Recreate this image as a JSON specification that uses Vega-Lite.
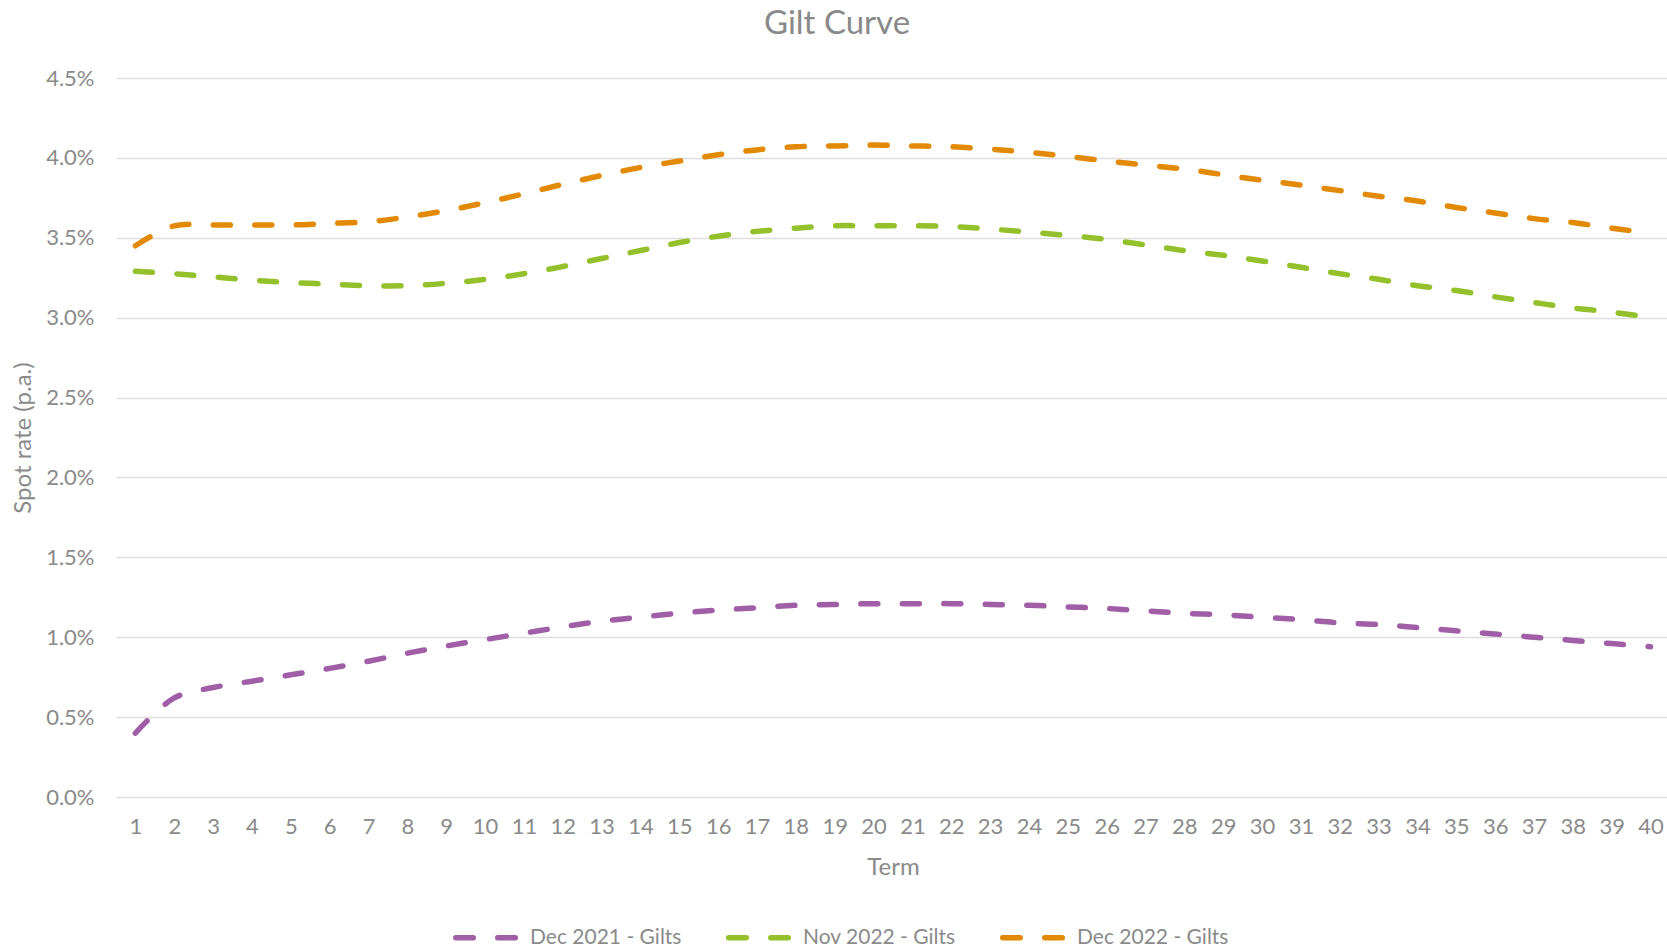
{
  "$schema": "https://vega.github.io/schema/vega-lite/v6.json",
  "autosize": {"type": "none"},
  "padding": {"left": 116, "top": 78, "right": 0, "bottom": 151},
  "width": 1554,
  "height": 719,
  "background": "white",
  "config": {
    "view": {"stroke": null},
    "font": "Lato",
    "axis": {"labelFont": "Lato", "titleFont": "Lato", "labelColor": "#8a8a8a", "titleColor": "#8a8a8a", "labelFontSize": 22, "titleFontSize": 24, "titleFontWeight": "normal"},
    "legend": {"labelFont": "Lato", "labelColor": "#8a8a8a", "labelFontSize": 21}
  },
  "title": {"text": "Gilt Curve", "font": "Lato", "fontSize": 33, "fontWeight": "normal", "color": "#8a8a8a", "anchor": "middle", "dx": -56, "offset": 26},
  "data": {"values": [
    {"term":1,"series":"Dec 2021 - Gilts","rate":0.0040},
    {"term":2,"series":"Dec 2021 - Gilts","rate":0.0062},
    {"term":3,"series":"Dec 2021 - Gilts","rate":0.00685},
    {"term":4,"series":"Dec 2021 - Gilts","rate":0.00725},
    {"term":5,"series":"Dec 2021 - Gilts","rate":0.00765},
    {"term":6,"series":"Dec 2021 - Gilts","rate":0.00805},
    {"term":7,"series":"Dec 2021 - Gilts","rate":0.0085},
    {"term":8,"series":"Dec 2021 - Gilts","rate":0.0090},
    {"term":9,"series":"Dec 2021 - Gilts","rate":0.00945},
    {"term":10,"series":"Dec 2021 - Gilts","rate":0.00985},
    {"term":11,"series":"Dec 2021 - Gilts","rate":0.01025},
    {"term":12,"series":"Dec 2021 - Gilts","rate":0.01065},
    {"term":13,"series":"Dec 2021 - Gilts","rate":0.0110},
    {"term":14,"series":"Dec 2021 - Gilts","rate":0.01125},
    {"term":15,"series":"Dec 2021 - Gilts","rate":0.0115},
    {"term":16,"series":"Dec 2021 - Gilts","rate":0.0117},
    {"term":17,"series":"Dec 2021 - Gilts","rate":0.01185},
    {"term":18,"series":"Dec 2021 - Gilts","rate":0.0120},
    {"term":19,"series":"Dec 2021 - Gilts","rate":0.01205},
    {"term":20,"series":"Dec 2021 - Gilts","rate":0.0121},
    {"term":21,"series":"Dec 2021 - Gilts","rate":0.0121},
    {"term":22,"series":"Dec 2021 - Gilts","rate":0.0121},
    {"term":23,"series":"Dec 2021 - Gilts","rate":0.01205},
    {"term":24,"series":"Dec 2021 - Gilts","rate":0.0120},
    {"term":25,"series":"Dec 2021 - Gilts","rate":0.0119},
    {"term":26,"series":"Dec 2021 - Gilts","rate":0.0118},
    {"term":27,"series":"Dec 2021 - Gilts","rate":0.01165},
    {"term":28,"series":"Dec 2021 - Gilts","rate":0.0115},
    {"term":29,"series":"Dec 2021 - Gilts","rate":0.0114},
    {"term":30,"series":"Dec 2021 - Gilts","rate":0.01125},
    {"term":31,"series":"Dec 2021 - Gilts","rate":0.0111},
    {"term":32,"series":"Dec 2021 - Gilts","rate":0.0109},
    {"term":33,"series":"Dec 2021 - Gilts","rate":0.0108},
    {"term":34,"series":"Dec 2021 - Gilts","rate":0.0106},
    {"term":35,"series":"Dec 2021 - Gilts","rate":0.0104},
    {"term":36,"series":"Dec 2021 - Gilts","rate":0.0102},
    {"term":37,"series":"Dec 2021 - Gilts","rate":0.0100},
    {"term":38,"series":"Dec 2021 - Gilts","rate":0.0098},
    {"term":39,"series":"Dec 2021 - Gilts","rate":0.0096},
    {"term":40,"series":"Dec 2021 - Gilts","rate":0.0094},
    {"term":1,"series":"Nov 2022 - Gilts","rate":0.0329},
    {"term":2,"series":"Nov 2022 - Gilts","rate":0.03275},
    {"term":3,"series":"Nov 2022 - Gilts","rate":0.03255},
    {"term":4,"series":"Nov 2022 - Gilts","rate":0.03235},
    {"term":5,"series":"Nov 2022 - Gilts","rate":0.0322},
    {"term":6,"series":"Nov 2022 - Gilts","rate":0.0321},
    {"term":7,"series":"Nov 2022 - Gilts","rate":0.0320},
    {"term":8,"series":"Nov 2022 - Gilts","rate":0.0320},
    {"term":9,"series":"Nov 2022 - Gilts","rate":0.03215},
    {"term":10,"series":"Nov 2022 - Gilts","rate":0.0324},
    {"term":11,"series":"Nov 2022 - Gilts","rate":0.03275},
    {"term":12,"series":"Nov 2022 - Gilts","rate":0.0332},
    {"term":13,"series":"Nov 2022 - Gilts","rate":0.0337},
    {"term":14,"series":"Nov 2022 - Gilts","rate":0.0342},
    {"term":15,"series":"Nov 2022 - Gilts","rate":0.0347},
    {"term":16,"series":"Nov 2022 - Gilts","rate":0.0351},
    {"term":17,"series":"Nov 2022 - Gilts","rate":0.0354},
    {"term":18,"series":"Nov 2022 - Gilts","rate":0.0356},
    {"term":19,"series":"Nov 2022 - Gilts","rate":0.03575},
    {"term":20,"series":"Nov 2022 - Gilts","rate":0.03575},
    {"term":21,"series":"Nov 2022 - Gilts","rate":0.03575},
    {"term":22,"series":"Nov 2022 - Gilts","rate":0.0357},
    {"term":23,"series":"Nov 2022 - Gilts","rate":0.03555},
    {"term":24,"series":"Nov 2022 - Gilts","rate":0.03535},
    {"term":25,"series":"Nov 2022 - Gilts","rate":0.03515},
    {"term":26,"series":"Nov 2022 - Gilts","rate":0.0349},
    {"term":27,"series":"Nov 2022 - Gilts","rate":0.03455},
    {"term":28,"series":"Nov 2022 - Gilts","rate":0.0342},
    {"term":29,"series":"Nov 2022 - Gilts","rate":0.0339},
    {"term":30,"series":"Nov 2022 - Gilts","rate":0.03355},
    {"term":31,"series":"Nov 2022 - Gilts","rate":0.03315},
    {"term":32,"series":"Nov 2022 - Gilts","rate":0.03275},
    {"term":33,"series":"Nov 2022 - Gilts","rate":0.0324},
    {"term":34,"series":"Nov 2022 - Gilts","rate":0.0320},
    {"term":35,"series":"Nov 2022 - Gilts","rate":0.0317},
    {"term":36,"series":"Nov 2022 - Gilts","rate":0.0313},
    {"term":37,"series":"Nov 2022 - Gilts","rate":0.03095},
    {"term":38,"series":"Nov 2022 - Gilts","rate":0.0306},
    {"term":39,"series":"Nov 2022 - Gilts","rate":0.03035},
    {"term":40,"series":"Nov 2022 - Gilts","rate":0.0300},
    {"term":1,"series":"Dec 2022 - Gilts","rate":0.0345},
    {"term":2,"series":"Dec 2022 - Gilts","rate":0.03575},
    {"term":3,"series":"Dec 2022 - Gilts","rate":0.0358},
    {"term":4,"series":"Dec 2022 - Gilts","rate":0.0358},
    {"term":5,"series":"Dec 2022 - Gilts","rate":0.0358},
    {"term":6,"series":"Dec 2022 - Gilts","rate":0.0359},
    {"term":7,"series":"Dec 2022 - Gilts","rate":0.0360},
    {"term":8,"series":"Dec 2022 - Gilts","rate":0.0363},
    {"term":9,"series":"Dec 2022 - Gilts","rate":0.0367},
    {"term":10,"series":"Dec 2022 - Gilts","rate":0.0372},
    {"term":11,"series":"Dec 2022 - Gilts","rate":0.03775},
    {"term":12,"series":"Dec 2022 - Gilts","rate":0.03835},
    {"term":13,"series":"Dec 2022 - Gilts","rate":0.0389},
    {"term":14,"series":"Dec 2022 - Gilts","rate":0.0394},
    {"term":15,"series":"Dec 2022 - Gilts","rate":0.0398},
    {"term":16,"series":"Dec 2022 - Gilts","rate":0.0402},
    {"term":17,"series":"Dec 2022 - Gilts","rate":0.0405},
    {"term":18,"series":"Dec 2022 - Gilts","rate":0.0407},
    {"term":19,"series":"Dec 2022 - Gilts","rate":0.04075},
    {"term":20,"series":"Dec 2022 - Gilts","rate":0.0408},
    {"term":21,"series":"Dec 2022 - Gilts","rate":0.04075},
    {"term":22,"series":"Dec 2022 - Gilts","rate":0.0407},
    {"term":23,"series":"Dec 2022 - Gilts","rate":0.04055},
    {"term":24,"series":"Dec 2022 - Gilts","rate":0.04035},
    {"term":25,"series":"Dec 2022 - Gilts","rate":0.0401},
    {"term":26,"series":"Dec 2022 - Gilts","rate":0.0398},
    {"term":27,"series":"Dec 2022 - Gilts","rate":0.03955},
    {"term":28,"series":"Dec 2022 - Gilts","rate":0.0393},
    {"term":29,"series":"Dec 2022 - Gilts","rate":0.03895},
    {"term":30,"series":"Dec 2022 - Gilts","rate":0.0386},
    {"term":31,"series":"Dec 2022 - Gilts","rate":0.0383},
    {"term":32,"series":"Dec 2022 - Gilts","rate":0.03795},
    {"term":33,"series":"Dec 2022 - Gilts","rate":0.0376},
    {"term":34,"series":"Dec 2022 - Gilts","rate":0.0373},
    {"term":35,"series":"Dec 2022 - Gilts","rate":0.0369},
    {"term":36,"series":"Dec 2022 - Gilts","rate":0.03655},
    {"term":37,"series":"Dec 2022 - Gilts","rate":0.0362},
    {"term":38,"series":"Dec 2022 - Gilts","rate":0.03595},
    {"term":39,"series":"Dec 2022 - Gilts","rate":0.0356},
    {"term":40,"series":"Dec 2022 - Gilts","rate":0.0353}
  ]},
  "mark": {"type": "line", "interpolate": "catmull-rom", "strokeWidth": 5.5, "strokeDash": [17, 24.5], "strokeCap": "round"},
  "encoding": {
    "x": {
      "field": "term", "type": "ordinal",
      "scale": {"type": "point", "padding": 0.5},
      "axis": {"title": "Term", "labelAngle": 0, "ticks": false, "domain": false, "grid": false, "labelPadding": 19, "titlePadding": 18}
    },
    "y": {
      "field": "rate", "type": "quantitative",
      "scale": {"domain": [0, 0.045]},
      "axis": {"title": "Spot rate (p.a.)", "format": ".1%", "values": [0, 0.005, 0.01, 0.015, 0.02, 0.025, 0.03, 0.035, 0.04, 0.045], "ticks": false, "domain": false, "gridColor": "#dedede", "gridWidth": 1.5, "labelPadding": 22, "titlePadding": 10}
    },
    "color": {
      "field": "series", "type": "nominal",
      "scale": {"domain": ["Dec 2021 - Gilts", "Nov 2022 - Gilts", "Dec 2022 - Gilts"], "range": ["#A05EA7", "#93C02B", "#E28A05"]},
      "legend": {"title": null, "orient": "none", "legendX": 337, "legendY": 827, "padding": 0, "direction": "horizontal", "symbolType": "stroke", "symbolStrokeWidth": 5.5, "symbolDash": [17.5, 24.5], "symbolSize": 3540, "columnPadding": 35, "labelOffset": 12,
        "encode": {"symbols": {"update": {"strokeCap": {"value": "round"}}}}}
    }
  }
}
